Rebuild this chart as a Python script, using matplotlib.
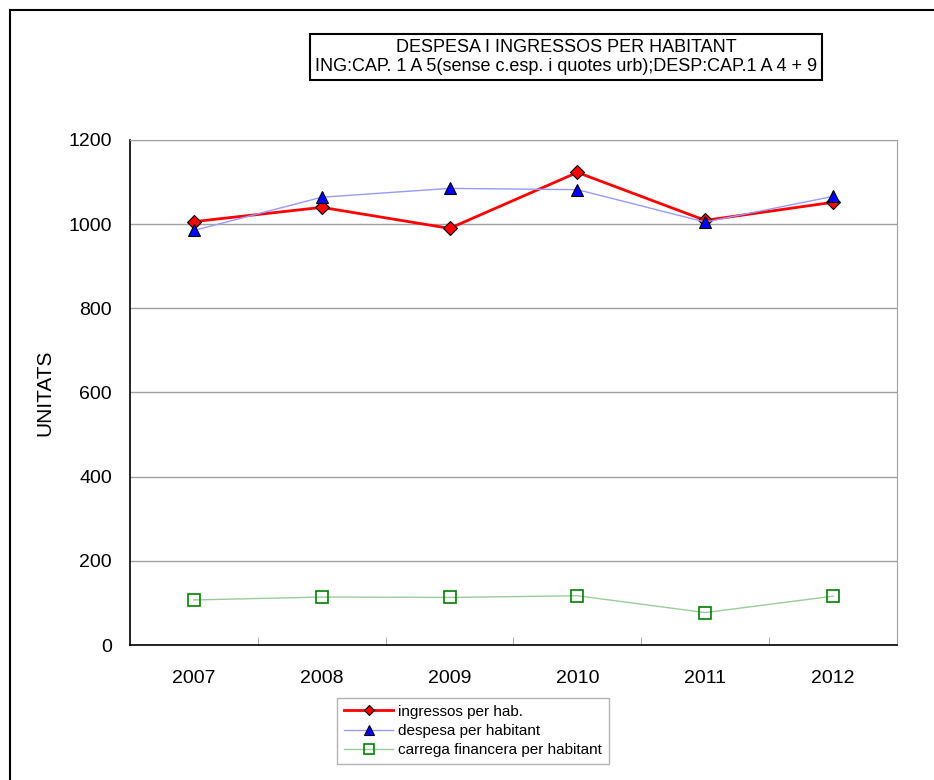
import matplotlib.pyplot as plt

plt.rcParams['font.family'] = ['Liberation Sans', 'DejaVu Sans']

# values
years = ['2007', '2008', '2009', '2010', '2011', '2012']
ingressos = [1006, 1040, 990, 1123, 1009, 1052]
despesa = [985, 1064, 1085, 1082, 1005, 1066]
carrega = [107, 114, 113, 117, 77, 116]

fig = plt.figure(figsize=(9.34, 7.8), dpi=100)
ax = fig.add_axes([130 / 934, 1 - 645 / 780, (897 - 130) / 934, (645 - 140) / 780])

x = range(len(years))
ax.plot(x, ingressos, color='#ff0000', lw=2, marker='D', ms=7,
        mfc='#ff0000', mec='black', mew=0.8, label='ingressos per hab.', zorder=3)
ax.plot(x, despesa, color='#9999ff', lw=1, marker='^', ms=9,
        mfc='#0000ff', mec='black', mew=0.8, label='despesa per habitant', zorder=4)
ax.plot(x, carrega, color='#99cc99', lw=1, marker='s', ms=9,
        mfc='none', mec='#008000', mew=1.2, label='carrega financera per habitant', zorder=3)

ax.set_xlim(-0.5, len(years) - 0.5)
ax.set_ylim(0, 1200)
ax.set_yticks(range(0, 1201, 200))
ax.set_xticks(x)
ax.set_xticklabels(years)
ax.set_xticks([i + 0.5 for i in range(len(years) - 1)], minor=True)
ax.tick_params(axis='x', which='major', length=0, pad=18, labelsize=14)
ax.tick_params(axis='x', which='minor', length=6, direction='in', color='#a0a0a0')
ax.tick_params(axis='y', length=0, pad=13, labelsize=14)
ax.yaxis.grid(True, color='#a0a0a0', lw=1)
ax.set_axisbelow(True)
for s in ['top', 'right']:
    ax.spines[s].set_color('#a0a0a0')
for s in ['left', 'bottom']:
    ax.spines[s].set_color('black')
    ax.spines[s].set_linewidth(1.2)
ax.set_ylabel('UNITATS', fontsize=15, labelpad=10)

fig.text(566 / 934, 1 - 57 / 780,
         'DESPESA I INGRESSOS PER HABITANT\nING:CAP. 1 A 5(sense c.esp. i quotes urb);DESP:CAP.1 A 4 + 9',
         ha='center', va='center', fontsize=13, linespacing=1.1,
         bbox=dict(boxstyle='square,pad=0.3', fc='white', ec='black', lw=1.5))

leg = fig.legend(loc='center', bbox_to_anchor=(473 / 934, 1 - 731 / 780), fontsize=11,
                 frameon=True, fancybox=False, edgecolor='#a0a0a0', handlelength=3.2,
                 handletextpad=0.3, labelspacing=0.35, borderpad=0.45, markerscale=0.75)
leg.get_frame().set_linewidth(1)

# outer frame of the chart area
fig.add_artist(plt.Line2D([10 / 934, 10 / 934], [0, 1 - 10 / 780], color='black', lw=1.5))
fig.add_artist(plt.Line2D([10 / 934, 1], [1 - 10 / 780, 1 - 10 / 780], color='black', lw=1.5))

plt.savefig('out.png', dpi=100)
